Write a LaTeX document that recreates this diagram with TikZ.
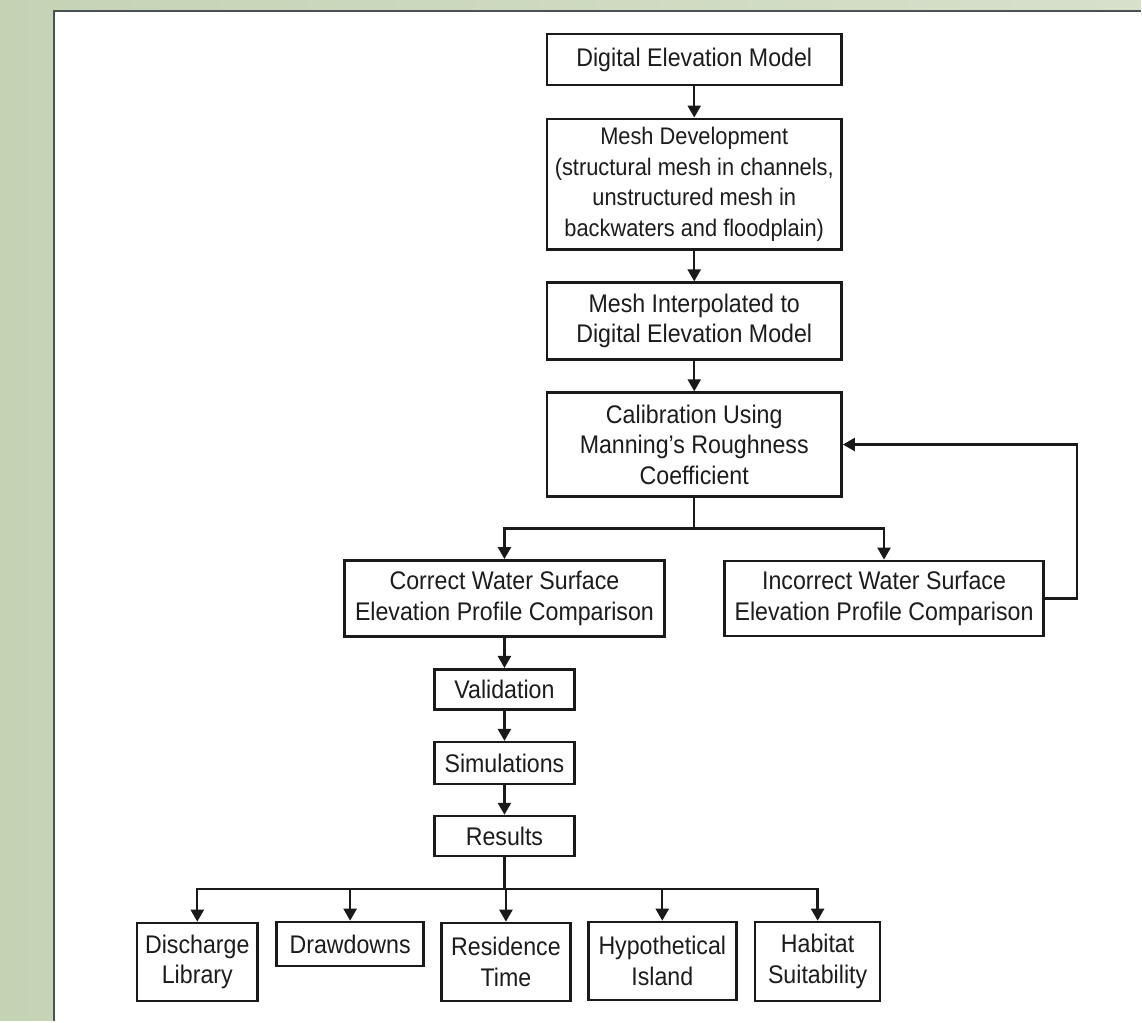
\documentclass[tikz,border=0pt]{standalone}
\usepackage{fontspec}
\setmainfont{Liberation Sans}[FakeStretch=0.91]
\usepackage{tikz}
\usetikzlibrary{arrows.meta}
\definecolor{sage}{HTML}{C5D3B5}
\definecolor{sagelight}{HTML}{D7E0CB}
\definecolor{frameline}{HTML}{4E5153}
\definecolor{inkline}{HTML}{1A1A1A}
\definecolor{inktext}{HTML}{1C1C1C}

\begin{document}
\begin{tikzpicture}[x=1pt,y=-1pt,
  box/.style={draw=inkline,line width=2.6pt,fill=white,inner sep=0pt,align=center,
    text=inktext,font=\fontsize{25.5}{30.5}\selectfont},
  link/.style={draw=inkline,line width=2.4pt,-{Triangle[length=12pt,width=13pt]}},
  trunk/.style={draw=inkline,line width=2.4pt}]
\shade[left color=sage,right color=sagelight] (0,0) rectangle (1142,1022);
\fill[white] (54,11) rectangle (1142,1022);
\draw[frameline,line width=2.5pt] (1142,11) -- (54,11) -- (54,1022);

\node[box,minimum width=295pt,minimum height=51pt] (dem) at (695,59.5) {Digital Elevation Model};
\node[box,minimum width=295pt,minimum height=131pt,font=\fontsize{24}{30.5}\selectfont] (mesh) at (695,184.5) {Mesh Development\\(structural mesh in channels,\\unstructured mesh in\\backwaters and floodplain)};
\node[box,minimum width=295pt,minimum height=77pt] (interp) at (695,321.5) {Mesh Interpolated to\\Digital Elevation Model};
\node[box,minimum width=295pt,minimum height=104pt] (calib) at (695,445) {Calibration Using\\Manning’s Roughness\\Coefficient};
\node[box,minimum width=320pt,minimum height=76pt] (correct) at (505,599) {Correct Water Surface\\Elevation Profile Comparison};
\node[box,minimum width=319pt,minimum height=75pt] (incorrect) at (885,599) {Incorrect Water Surface\\Elevation Profile Comparison};
\node[box,minimum width=140pt,minimum height=40pt] (valid) at (505,690) {Validation};
\node[box,minimum width=140pt,minimum height=42pt] (simul) at (505,764) {Simulations};
\node[box,minimum width=140pt,minimum height=40pt] (results) at (505,837) {Results};
\node[box,minimum width=121pt,minimum height=78pt] (discharge) at (197.5,963) {Discharge\\Library};
\node[box,minimum width=147pt,minimum height=44pt] (drawdowns) at (350.5,945) {Drawdowns};
\node[box,minimum width=129pt,minimum height=78pt] (residence) at (506.5,963) {Residence\\Time};
\node[box,minimum width=148pt,minimum height=78pt] (hypo) at (663,962) {Hypothetical\\Island};
\node[box,minimum width=125pt,minimum height=79pt] (habitat) at (818.5,962.5) {Habitat\\Suitability};

\coordinate (split1) at (695,529);
\coordinate (loop) at (1078,445);
\coordinate (split2) at (505,890);

\draw[link] (dem) -- (mesh);
\draw[link] (mesh) -- (interp);
\draw[link] (interp) -- (calib);
\draw[trunk] (calib) -- (split1);
\draw[link] (split1) -| (correct);
\draw[link] (split1) -| (incorrect);
\draw[link] (incorrect.east) -| (loop) -- (calib.east);
\draw[link] (correct) -- (valid);
\draw[link] (valid) -- (simul);
\draw[link] (simul) -- (results);
\draw[trunk] (results) -- (split2);
\foreach \leaf in {discharge,drawdowns,residence,hypo,habitat}
  \draw[link] (split2) -| (\leaf.north);
\end{tikzpicture}
\end{document}
